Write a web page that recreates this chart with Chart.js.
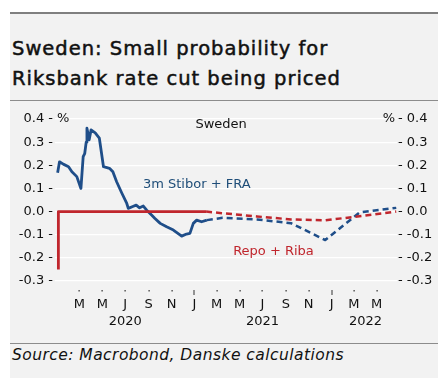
<!DOCTYPE html>
<html><head><meta charset="utf-8">
<script src="https://cdn.jsdelivr.net/npm/chart.js@4.4.1/dist/chart.umd.min.js"></script>
<style>
html,body{margin:0;padding:0;background:#fff;width:438px;height:378px;overflow:hidden}
.abs{position:absolute}
#rule0{left:10px;top:12px;width:428px;height:2px;background:#7f7f7f}
#panel{left:10px;top:14px;width:428px;height:364px;background:#f2f2f2}
#title{left:12px;top:34px;font-family:"DejaVu Sans";font-size:19.5px;line-height:30px;letter-spacing:1px;color:#111;-webkit-text-stroke:0.5px #111;white-space:nowrap}
#rule1{left:10px;top:100px;width:428px;height:1px;background:#8c8c8c}
#rule2{left:10px;top:343px;width:428px;height:1px;background:#8c8c8c}
#chartbox{left:10px;top:102px;width:428px;height:240px}
#chartbox canvas{display:block}
#source{left:12px;top:345px;font-family:"DejaVu Sans";font-style:italic;font-size:15.5px;line-height:20px;letter-spacing:0.45px;color:#111;white-space:nowrap}
</style></head>
<body>
<div id="panel" class="abs"></div>
<div id="rule0" class="abs"></div>
<div id="title" class="abs">Sweden: Small probability for<br>Riksbank rate cut being priced</div>
<div id="rule1" class="abs"></div>
<div id="chartbox" class="abs"><canvas id="c" width="428" height="240"></canvas></div>
<div id="rule2" class="abs"></div>
<div id="source" class="abs">Source: Macrobond, Danske calculations</div>
<script>
// ---- data ----
const stiborDates = ['2020-01-03','2020-01-08','2020-01-18','2020-02-01','2020-02-10','2020-02-23','2020-03-05','2020-03-11','2020-03-15','2020-03-19','2020-03-21','2020-03-27','2020-04-01','2020-04-12','2020-04-23','2020-05-04','2020-05-20','2020-05-29','2020-06-08','2020-06-22','2020-07-05','2020-07-09','2020-07-21','2020-07-30','2020-08-08','2020-08-18','2020-08-27','2020-09-09','2020-09-18','2020-10-02','2020-10-19','2020-11-06','2020-11-28','2020-12-11','2020-12-20','2020-12-29','2021-01-07','2021-01-20','2021-02-03'];
const stiborValues = [0.168,0.215,0.205,0.194,0.172,0.151,0.10,0.237,0.25,0.30,0.36,0.31,0.353,0.34,0.317,0.194,0.187,0.172,0.129,0.079,0.035,0.014,0.022,0.028,0.016,0.024,0.006,-0.015,-0.03,-0.051,-0.066,-0.08,-0.106,-0.097,-0.094,-0.051,-0.037,-0.044,-0.037];
const fraDates = ['2021-02-03','2021-03-17','2021-06-16','2021-09-15','2021-12-15','2022-03-16','2022-06-22'];
const fraValues = [-0.037,-0.027,-0.034,-0.05,-0.123,-0.004,0.016];
const repoDates = ['2020-01-05','2020-01-05','2021-02-01'];
const repoValues = [-0.25,0,0];
const ribaDates = ['2021-02-01','2021-03-17','2021-06-16','2021-09-15','2021-12-15','2022-03-16','2022-06-22'];
const ribaValues = [0,-0.007,-0.021,-0.034,-0.038,-0.02,0.0];
const xTickDates = ['2020-03-01','2020-05-01','2020-07-01','2020-09-01','2020-11-01','2021-01-01','2021-03-01','2021-05-01','2021-07-01','2021-09-01','2021-11-01','2022-01-01','2022-03-01','2022-05-01'];
const xTickLabels = ['M','M','J','S','N','J','M','M','J','S','N','J','M','M'];
const yearTickDates = ['2020-07-01','2021-07-01','2022-04-01'];
const yearTickLabels = ['2020','2021','2022'];
const yTicks = [-0.3,-0.2,-0.1,0.0,0.1,0.2,0.3,0.4];

// ---- helpers ----
function dayNum(s){const p=s.split('-').map(Number);return (Date.UTC(p[0],p[1]-1,p[2])-Date.UTC(2020,0,1))/86400000;}
function pts(d,v){return d.map((s,i)=>({x:dayNum(s),y:v[i]}));}
function fmt(v){if(Math.abs(v)<1e-9)v=0;return v.toFixed(1);}
const BLUE='#1f4e89', RED='#c0262d';
const XMIN=dayNum('2019-12-27'), XMAX=dayNum('2022-06-24');
const FONT={family:'DejaVu Sans',size:13};

const annotations=[
  {text:'Sweden',x:'2021-03-13',y:0.374,color:'#111',align:'center'},
  {text:'3m Stibor + FRA',x:'2020-08-17',y:0.115,color:'#1f4e79',align:'left'},
  {text:'Repo + Riba',x:'2021-04-14',y:-0.171,color:RED,align:'left'}
];

const extras={
  id:'extras',
  afterDraw(chart){
    const ctx=chart.ctx, xs=chart.scales.x, ys=chart.scales.y, ca=chart.chartArea;
    ctx.save();
    ctx.font='13px "DejaVu Sans"';
    ctx.textBaseline='middle';
    annotations.forEach(a=>{
      ctx.fillStyle=a.color; ctx.textAlign=a.align;
      ctx.fillText(a.text,xs.getPixelForValue(dayNum(a.x)),ys.getPixelForValue(a.y));
    });
    ctx.fillStyle='#111';
    const yTop=ys.getPixelForValue(0.4);
    ctx.textAlign='left'; ctx.fillText('%',ca.left+2,yTop);
    ctx.textAlign='right'; ctx.fillText('%',ca.right-2,yTop);
    // tick dots
    ctx.fillStyle='#333';
    xTickDates.forEach(d=>{
      const px=Math.round(xs.getPixelForValue(dayNum(d)));
      if(d.slice(5,7)==='01') ctx.fillRect(px-0.5,ca.bottom+9,1,5);
      else ctx.fillRect(px-0.5,ca.bottom+9,1.2,1.5);
    });
    ctx.restore();
  }
};

new Chart(document.getElementById('c'),{
  type:'line',
  data:{datasets:[
    {label:'Repo',data:pts(repoDates,repoValues),borderColor:RED,borderWidth:2.8},
    {label:'Riba',data:pts(ribaDates,ribaValues),borderColor:RED,borderWidth:2.5,borderDash:[6,4]},
    {label:'Stibor',data:pts(stiborDates,stiborValues),borderColor:BLUE,borderWidth:2.8},
    {label:'FRA',data:pts(fraDates,fraValues),borderColor:BLUE,borderWidth:2.5,borderDash:[6,4]}
  ]},
  options:{
    responsive:false,animation:false,devicePixelRatio:1,
    layout:{padding:{top:17,bottom:9,left:0,right:0}},
    elements:{point:{radius:0},line:{tension:0,borderCapStyle:'butt',borderJoinStyle:'round'}},
    plugins:{legend:{display:false},tooltip:{enabled:false}},
    scales:{
      x:{type:'linear',min:XMIN,max:XMAX,weight:0,
        grid:{display:false,drawTicks:false},border:{display:false},
        afterBuildTicks:a=>{a.ticks=xTickDates.map(d=>({value:dayNum(d)}));},
        afterFit:s=>{s.height=30;},
        ticks:{autoSkip:false,maxRotation:0,padding:16,color:'#111',font:FONT,callback:(v,i)=>xTickLabels[i]}},
      x2:{type:'linear',position:'bottom',min:XMIN,max:XMAX,weight:1,
        grid:{display:false,drawTicks:false},border:{display:false},
        afterBuildTicks:a=>{a.ticks=yearTickDates.map(d=>({value:dayNum(d)}));},
        afterFit:s=>{s.height=22;},
        ticks:{autoSkip:false,maxRotation:0,padding:3,color:'#111',font:FONT,callback:(v,i)=>yearTickLabels[i]}},
      y:{type:'linear',position:'left',min:-0.3,max:0.4,
        grid:{color:'#ffffff',lineWidth:1.2,drawTicks:false},border:{display:false},
        afterBuildTicks:a=>{a.ticks=yTicks.map(v=>({value:v}));},
        afterFit:s=>{s.width=45;},
        ticks:{padding:2,color:'#111',font:FONT,callback:v=>fmt(v)+' -'}},
      y2:{type:'linear',position:'right',min:-0.3,max:0.4,
        grid:{display:false,drawTicks:false},border:{display:false},
        afterBuildTicks:a=>{a.ticks=yTicks.map(v=>({value:v}));},
        afterFit:s=>{s.width=41;},
        ticks:{padding:1,color:'#111',font:FONT,callback:v=>'- '+fmt(v)}}
    }
  },
  plugins:[extras]
});
</script>
</body></html>
